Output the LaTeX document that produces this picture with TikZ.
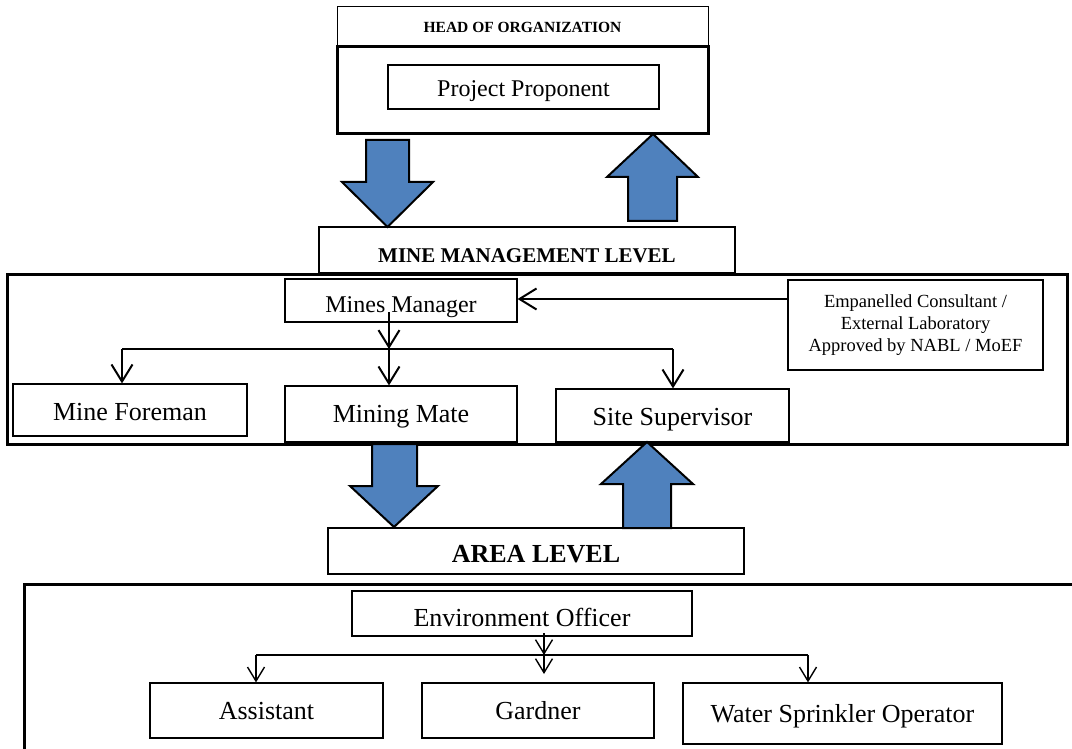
\documentclass[tikz,border=0pt]{standalone}
\usepackage{fontspec}
\setmainfont{Liberation Serif}
\usetikzlibrary{shapes,arrows.meta,positioning}
\definecolor{arrowblue}{RGB}{79,129,189}

\tikzset{
  box/.style={rectangle, draw, line width=1.2pt, inner sep=0pt, text depth=0pt, font=\fontsize{26}{30}\selectfont},
  frame/.style={rectangle, draw, line width=3pt, inner sep=0pt},
  link/.style={line width=2pt, >={Straight Barb[length=17pt,width=21pt]}},
  sublink/.style={line width=1.4pt, >={Straight Barb[length=14pt,width=17pt]}},
  blockarrow/.style={draw, line width=2pt, fill=arrowblue},
}

\begin{document}
\begin{tikzpicture}[x=1pt, y=-1pt]
\useasboundingbox (0,0) rectangle (1072,749);

% Head of organization
\node[frame, minimum width=371pt, minimum height=87pt] (topframe) at (522.5,90.5) {};
\node[box, line width=1pt, minimum width=371pt, minimum height=39pt, text height=12pt, font=\bfseries\fontsize{15.5}{18}\selectfont] (head) at (522.5,26.5) {HEAD OF ORGANIZATION};
\node[box, minimum width=271pt, minimum height=44pt, text height=19pt, font=\fontsize{24}{28}\selectfont] (proponent) at (523.5,87) {Project Proponent};

% Arrows
\draw[blockarrow] (366,140) -- (409,140) -- (409,182) -- (433,182) -- (387.5,227) -- (342,182) -- (366,182) -- cycle;
\draw[blockarrow] (653,134) -- (698,177) -- (677,177) -- (677,221) -- (628,221) -- (628,177) -- (607,177) -- cycle;

\node[box, minimum width=416pt, minimum height=46pt, text height=24pt, font=\bfseries\fontsize{21}{25}\selectfont] (minelevel) at (527,250) {MINE MANAGEMENT LEVEL};

% Mine management level
\node[frame, minimum width=1060pt, minimum height=170pt] (midframe) at (537,359) {};
\node[box, minimum width=232pt, minimum height=43pt, text height=23pt, font=\fontsize{24}{28}\selectfont] (manager) at (401,300.5) {Mines Manager};
\node[rectangle, draw, line width=1.2pt, minimum width=255pt, minimum height=90pt, align=center, font=\fontsize{18.5}{21.8}\selectfont] (consultant) at (915.5,325) {Empanelled Consultant /\\External Laboratory\\Approved by NABL / MoEF};
\node[box, minimum width=234pt, minimum height=52pt, text height=21pt] (foreman) at (130,410) {Mine Foreman};
\node[box, minimum width=232pt, minimum height=56pt] (mate) at (401,414) {Mining Mate};
\node[box, minimum width=233pt, minimum height=53pt, text height=20pt] (supervisor) at (672.5,415.5) {Site Supervisor};

\coordinate (mtop) at (389,312);
\coordinate (mbus) at (389,349);
\coordinate (mleft) at (122,349);
\coordinate (mright) at (673,349);
\coordinate (cin) at (788,299);

\draw[link, ->] (mtop) -- (mbus);
\draw[link] (mleft) -- (mright);
\draw[link, ->] (mleft) -- (mleft |- foreman.north);
\draw[link, ->] (mbus) -- (mbus |- mate.north);
\draw[link, ->] (mright) -- (mright |- supervisor.north);
\draw[link, ->] (cin) -- (cin -| manager.east);

% Arrows
\draw[blockarrow] (372,444) -- (417,444) -- (417,486) -- (438,486) -- (394,527) -- (350,486) -- (372,486) -- cycle;
\draw[blockarrow] (647,442) -- (693,484) -- (671,484) -- (671,528) -- (623,528) -- (623,484) -- (601,484) -- cycle;

\node[box, minimum width=416pt, minimum height=46pt, text height=22pt, font=\bfseries\fontsize{26}{30}\selectfont] (arealevel) at (536,551) {AREA LEVEL};

% Area level
\node[frame, minimum width=1070pt, minimum height=200pt, anchor=north west] (lowframe) at (23,583) {};
\node[box, minimum width=340pt, minimum height=45pt, text height=25pt] (envofficer) at (522,613.5) {Environment Officer};
\node[box, minimum width=233pt, minimum height=55pt] (assistant) at (266.5,710.5) {Assistant};
\node[box, minimum width=232pt, minimum height=55pt] (gardner) at (538,710.5) {Gardner};
\node[box, minimum width=319pt, minimum height=61pt] (sprinkler) at (842.5,713.5) {Water Sprinkler Operator};

\coordinate (etop) at (544,633);
\coordinate (abus) at (544,655);
\coordinate (aleft) at (256,655);
\coordinate (aright) at (808,655);
\coordinate (gtip) at (544,674);

\draw[sublink, ->] (etop) -- (abus);
\draw[sublink] (aleft) -- (aright);
\draw[sublink, ->] (aleft) -- (aleft |- assistant.north);
\draw[sublink, ->] (abus) -- (gtip);
\draw[sublink, ->] (aright) -- (aright |- sprinkler.north);
\end{tikzpicture}
\end{document}
